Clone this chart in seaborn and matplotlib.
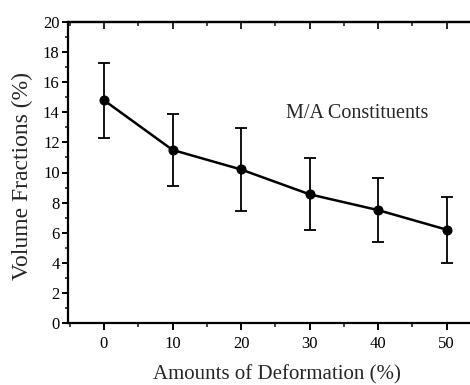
import matplotlib
matplotlib.use("Agg")
import matplotlib.pyplot as plt
from matplotlib.ticker import MultipleLocator
import numpy as np
import pandas as pd
import seaborn as sns

# Volume fraction of M/A constituents against the amount of deformation
deformation = [0, 10, 20, 30, 40, 50]
volume_fraction = [14.8, 11.5, 10.2, 8.55, 7.5, 6.2]
fraction_err = [2.5, 2.4, 2.75, 2.4, 2.15, 2.2]

df = pd.DataFrame({"deformation": deformation,
                   "fraction": volume_fraction,
                   "err": fraction_err})

sns.set_theme(style="ticks")
plt.rcParams["font.family"] = ["Liberation Serif", "DejaVu Serif"]

fig = plt.figure(figsize=(4.70, 3.85), dpi=100)
ax = fig.add_axes([68 / 470, 62 / 385, 413 / 470, 301 / 385])

ax.errorbar(df["deformation"], df["fraction"], yerr=df["err"], fmt="none",
            ecolor="black", elinewidth=1.3, capsize=4, capthick=1.3, zorder=2)
sns.lineplot(data=df, x="deformation", y="fraction", ax=ax, color="black",
             linewidth=1.8, marker="o", markersize=6.5, markeredgecolor="black",
             markerfacecolor="black", zorder=3)

ax.set_xlim(-5.25, 55)
ax.set_ylim(0, 20)
ax.xaxis.set_major_locator(MultipleLocator(10))
ax.xaxis.set_minor_locator(MultipleLocator(5))
ax.yaxis.set_major_locator(MultipleLocator(2))
ax.yaxis.set_minor_locator(MultipleLocator(1))

for side in ["left", "bottom", "top", "right"]:
    ax.spines[side].set_linewidth(1.6)
    ax.spines[side].set_color("black")

ax.tick_params(axis="x", which="major", direction="out", length=5, width=1.4,
               labelsize=12, pad=4, colors="black")
ax.tick_params(axis="x", which="minor", direction="out", length=3, width=1.2)
ax.tick_params(axis="y", which="major", direction="out", length=4, width=1.4,
               labelsize=12, pad=2, colors="black")
ax.tick_params(axis="y", which="minor", direction="out", length=2.5, width=1.2)

# Inward ticks along the top edge
top = ax.secondary_xaxis("top")
top.xaxis.set_major_locator(MultipleLocator(10))
top.xaxis.set_minor_locator(MultipleLocator(5))
top.tick_params(which="major", direction="in", length=5, width=1.4, labeltop=False)
top.tick_params(which="minor", direction="in", length=3, width=1.2)
top.spines["top"].set_linewidth(1.6)

ax.set_xlabel("Amounts of Deformation (%)", fontsize=15)
ax.set_ylabel("Volume Fractions (%)", fontsize=17)
ax.xaxis.set_label_coords(0.505, -0.14)
ax.yaxis.set_label_coords(-0.085, 0.49)

ax.text(37, 13.9, "M/A Constituents", fontsize=14.5, ha="center", va="center")

fig.savefig("out.png", dpi=100)
